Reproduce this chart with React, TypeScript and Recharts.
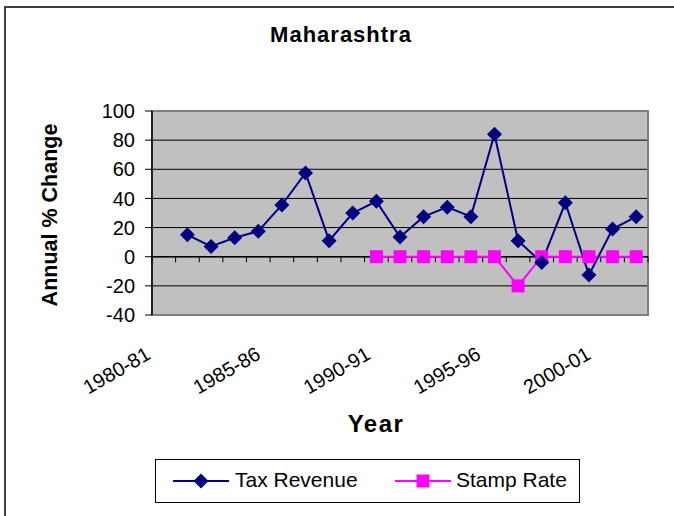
import React from "react";
import {
  LineChart,
  Line,
  XAxis,
  YAxis,
  CartesianGrid,
  ReferenceLine,
  ReferenceArea,
  Label,
} from "recharts";

const years = [
  "1980-81", "1981-82", "1982-83", "1983-84", "1984-85", "1985-86", "1986-87",
  "1987-88", "1988-89", "1989-90", "1990-91", "1991-92", "1992-93", "1993-94",
  "1994-95", "1995-96", "1996-97", "1997-98", "1998-99", "1999-00", "2000-01",
];

const taxRevenue = [
  null, 15, 7, 13, 17.5, 35.5, 57.5, 11, 30, 38, 13.5,
  27.5, 34, 27.5, 84, 11, -4, 37, -12.5, 19, 27.5,
];

const stampRate = [
  null, null, null, null, null, null, null, null, null, 0, 0,
  0, 0, 0, 0, -20, 0, 0, 0, 0, 0,
];

const yTicks = [-40, -20, 0, 20, 40, 60, 80, 100];
const labelTicks = [0.5, 5.5, 10.5, 15.5, 20.5];

const TAX_COLOR = "#000080";
const STAMP_COLOR = "#FF00FF";
const FONT = "'Liberation Sans', Arial, sans-serif";

const data = years.map((year, i) => ({
  pos: i + 0.5,
  year,
  tax: taxRevenue[i],
  stamp: stampRate[i],
}));

const boundaries = years.map((_, i) => i).concat([years.length]);

const Diamond = (props: any) => {
  const { cx, cy, index } = props;
  if (cx == null || cy == null || props.value == null) return <g key={"d" + index} />;
  return (
    <path
      key={"d" + index}
      d={`M${cx},${cy - 7.5}L${cx + 7.5},${cy}L${cx},${cy + 7.5}L${cx - 7.5},${cy}Z`}
      fill={TAX_COLOR}
    />
  );
};

const Square = (props: any) => {
  const { cx, cy, index } = props;
  if (cx == null || cy == null || props.value == null) return <g key={"s" + index} />;
  return <rect key={"s" + index} x={cx - 6.5} y={cy - 6.5} width={13} height={13} fill={STAMP_COLOR} />;
};

// Excel squeezes the rotated labels a little to the left as they go
const YearTick = (props: any) => {
  const { x, y, payload } = props;
  const i = Math.floor(payload.value);
  const label = years[i];
  return (
    <g transform={`translate(${x - 12 - 1.6 * i},${y + 41})`}>
      <text
        x={0}
        y={0}
        textAnchor="end"
        transform="rotate(-30)"
        fontSize={20}
        fontFamily={FONT}
        fill="#000"
      >
        {label}
      </text>
    </g>
  );
};

export default function App() {
  return (
    <div
      style={{
        position: "absolute",
        left: 0,
        top: 0,
        width: 674,
        height: 516,
        overflow: "hidden",
        background: "#fff",
        fontFamily: FONT,
      }}
    >
      <div
        style={{
          position: "absolute",
          left: 4,
          top: 6,
          width: 720,
          height: 600,
          border: "2px solid #404040",
        }}
      />
      <div
        style={{
          position: "absolute",
          left: 191,
          top: 22,
          width: 300,
          textAlign: "center",
          fontSize: 22,
          fontWeight: "bold",
          letterSpacing: 1,
        }}
      >
        Maharashtra
      </div>
      <div style={{ position: "absolute", left: 0, top: 0 }}>
        <LineChart
          width={674}
          height={516}
          data={data}
          margin={{ top: 111, right: 26, bottom: 81, left: 0 }}
        >
          <CartesianGrid vertical={false} stroke="#000" fill="#C0C0C0" />
          <ReferenceArea
            x1={0}
            x2={21}
            y1={-40}
            y2={100}
            fill="none"
            stroke="#808080"
            strokeWidth={2}
          />
          {boundaries.map((b) => (
            <ReferenceLine
              key={b}
              segment={[
                { x: b, y: 0 },
                { x: b, y: -3.8 },
              ]}
              stroke="#000"
              strokeWidth={1}
            />
          ))}
          <XAxis
            type="number"
            dataKey="pos"
            domain={[0, 21]}
            ticks={labelTicks}
            interval={0}
            axisLine={false}
            tickLine={false}
            tickSize={0}
            tick={<YearTick />}
            height={120}
          >
            <Label
              value="Year"
              position="insideBottom"
              offset={3}
              dx={-24}
              style={{ fontSize: 24, fontWeight: "bold", fill: "#000", fontFamily: FONT, letterSpacing: 1.5 }}
            />
          </XAxis>
          <YAxis
            domain={[-40, 100]}
            ticks={yTicks}
            interval={0}
            width={152}
            axisLine={{ stroke: "#000", strokeWidth: 1.5 }}
            tickLine={{ stroke: "#000" }}
            tickSize={7}
            tickMargin={10}
            tick={{ fontSize: 20, fill: "#000", fontFamily: FONT }}
          >
            <Label
              value="Annual % Change"
              angle={-90}
              position="insideLeft"
              offset={49}
              dy={2}
              style={{ fontSize: 21.5, fontWeight: "bold", fill: "#000", fontFamily: FONT, textAnchor: "middle" }}
            />
          </YAxis>
          <ReferenceLine y={0} stroke="#000" strokeWidth={1.5} />
          <Line
            dataKey="stamp"
            name="Stamp Rate"
            stroke={STAMP_COLOR}
            strokeWidth={2}
            dot={<Square />}
            isAnimationActive={false}
          />
          <Line
            dataKey="tax"
            name="Tax Revenue"
            stroke={TAX_COLOR}
            strokeWidth={2}
            dot={<Diamond />}
            isAnimationActive={false}
          />
        </LineChart>
      </div>
      <div
        style={{
          position: "absolute",
          left: 155,
          top: 459,
          width: 423,
          height: 42,
          border: "1px solid #000",
          background: "#fff",
          fontSize: 21,
        }}
      >
        <svg width={56} height={20} style={{ position: "absolute", left: 17, top: 11 }}>
          <line x1={0} y1={10} x2={56} y2={10} stroke={TAX_COLOR} strokeWidth={2} />
          <path d="M28,2.5L35.5,10L28,17.5L20.5,10Z" fill={TAX_COLOR} />
        </svg>
        <span style={{ position: "absolute", left: 79, top: 8 }}>Tax Revenue</span>
        <svg width={56} height={20} style={{ position: "absolute", left: 239, top: 11 }}>
          <line x1={0} y1={10} x2={56} y2={10} stroke={STAMP_COLOR} strokeWidth={2} />
          <rect x={21.5} y={3.5} width={13} height={13} fill={STAMP_COLOR} />
        </svg>
        <span style={{ position: "absolute", left: 300, top: 8 }}>Stamp Rate</span>
      </div>
    </div>
  );
}
